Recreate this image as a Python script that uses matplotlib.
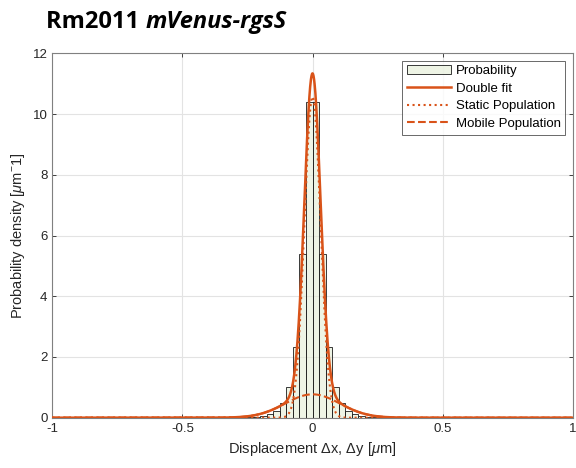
import numpy as np
import matplotlib.pyplot as plt

plt.rcParams['font.family'] = ['Liberation Sans', 'DejaVu Sans']
plt.rcParams['mathtext.fontset'] = 'custom'
plt.rcParams['mathtext.rm'] = 'Liberation Sans'
plt.rcParams['mathtext.it'] = 'Liberation Sans:italic'

# Histogram (bin width 0.025, symmetric about 0), heights for bins from centre outwards
bin_width = 0.025
half_heights = [10.39, 5.39, 2.32, 1.00, 0.47, 0.22, 0.12, 0.06, 0.03, 0.015, 0.008]

# Double gaussian fit parameters
static_amp, static_sigma = 10.57, 0.031
mobile_amp, mobile_sigma = 0.77, 0.105

orange = '#D95319'

heights = half_heights[::-1] + half_heights
n = len(half_heights)
lefts = np.arange(-n, n) * bin_width

x = np.linspace(-1, 1, 2001)
static = static_amp * np.exp(-x**2 / (2 * static_sigma**2))
mobile = mobile_amp * np.exp(-x**2 / (2 * mobile_sigma**2))

fig = plt.figure(figsize=(5.76, 4.68), dpi=100)
ax = fig.add_axes([0.0908, 0.1075, 0.9035, 0.7785])

bars = ax.bar(lefts, heights, width=bin_width, align='edge',
              facecolor=(227/255, 237/255, 213/255, 0.6),
              edgecolor='#1a1a1a', linewidth=0.6, zorder=2)
l1, = ax.plot(x, static + mobile, '-', color=orange, lw=1.8, zorder=4)
l2, = ax.plot(x, static, ':', color=orange, lw=1.5, zorder=3)
l3, = ax.plot(x, mobile, '--', color=orange, lw=1.5, zorder=3)

ax.set_xlim(-1, 1)
ax.set_ylim(0, 12)
ax.set_xticks([-1, -0.5, 0, 0.5, 1])
ax.set_xticklabels(['-1', '-0.5', '0', '0.5', '1'])
ax.set_yticks(range(0, 13, 2))
ax.grid(True, color='#E3E3E3', lw=0.8, zorder=0)
ax.set_axisbelow(True)
ax.tick_params(direction='in', top=True, right=True, labelsize=9.5,
               colors='#262626', length=3, width=0.6)
for s in ax.spines.values():
    s.set_color('#808080')
    s.set_linewidth(0.8)

ax.set_xlabel('Displacement $\\Delta$x, $\\Delta$y [$\\mu$m]', fontsize=10.5, color='#262626')
ax.set_ylabel('Probability density [$\\mu$m$^{-}$1]', fontsize=10.5, color='#262626')

leg = ax.legend([bars, l1, l2, l3],
                ['Probability', 'Double fit', 'Static Population', 'Mobile Population'],
                loc='upper right', fontsize=9.5, frameon=True, fancybox=False,
                edgecolor='#262626', borderpad=0.35, labelspacing=0.4,
                handlelength=3.3, handletextpad=0.4, borderaxespad=0.55)
leg.get_frame().set_linewidth(0.6)

t1 = fig.text(0.080, 0.9395, 'Rm2011 ', fontsize=17, fontweight='bold',
              family='Open Sans', ha='left', va='baseline')
fig.canvas.draw()
ax.annotate('mVenus-rgsS', xy=(1, 0), xycoords=t1, fontsize=17, fontweight='bold',
            style='italic', family='Open Sans', ha='left', va='bottom',
            annotation_clip=False)

fig.savefig('out.png', dpi=100)
